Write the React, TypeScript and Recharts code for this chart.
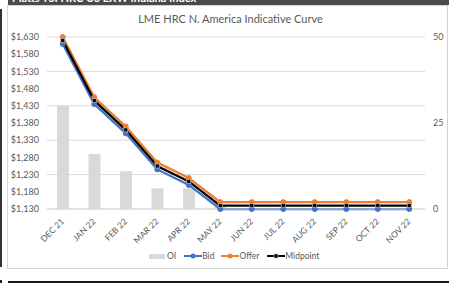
import React from "react";
import {
  ComposedChart,
  Bar,
  Line,
  XAxis,
  YAxis,
  CartesianGrid,
} from "recharts";

const months = [
  "DEC 21",
  "JAN 22",
  "FEB 22",
  "MAR 22",
  "APR 22",
  "MAY 22",
  "JUN 22",
  "JUL 22",
  "AUG 22",
  "SEP 22",
  "OCT 22",
  "NOV 22",
];
const oi = [30, 16, 11, 6, 6, 1, 0, 0, 0, 0, 0, 0];
const bid = [1610, 1435, 1350, 1245, 1200, 1130, 1130, 1130, 1130, 1130, 1130, 1130];
const offer = [1630, 1455, 1370, 1265, 1220, 1150, 1150, 1150, 1150, 1150, 1150, 1150];
const midpoint = [1620, 1445, 1360, 1255, 1210, 1140, 1140, 1140, 1140, 1140, 1140, 1140];
const priceTicks = [1130, 1180, 1230, 1280, 1330, 1380, 1430, 1480, 1530, 1580, 1630];
const oiTicks = [0, 25, 50];

const BLUE = "#4472C4";
const ORANGE = "#ED7D31";
const GREY = "#d9d9d9";
const TEXT = "#595959";
const FONT = "Lato, 'Open Sans', sans-serif";

const data = months.map((m, i) => ({
  month: m,
  oi: oi[i],
  bid: bid[i],
  offer: offer[i],
  midpoint: midpoint[i],
}));

const fmtPrice = (v: number) => "$" + v.toLocaleString("en-US");

const MonthTick = (props: any) => {
  const { x, y, payload } = props;
  const px = x + 2;
  const py = y + 5;
  return (
    <text
      x={px}
      y={py}
      textAnchor="end"
      fill={TEXT}
      fontSize={8.5}
      fontFamily={FONT}
      transform={`rotate(-45, ${px}, ${py})`}
    >
      {payload.value}
    </text>
  );
};

const SquareDot = (props: any) => {
  const { cx, cy } = props;
  if (cx == null || cy == null) return null;
  return <rect x={cx - 2} y={cy - 2} width={4} height={4} fill="#000" stroke="#bbb" strokeWidth={0.75} />;
};

const LegendLine = ({ color, square }: { color: string; square?: boolean }) => (
  <svg width={18} height={8} style={{ display: "block" }}>
    <line x1={0} y1={4} x2={18} y2={4} stroke={color} strokeWidth={2} />
    {square ? (
      <rect x={7} y={2} width={4} height={4} fill="#000" stroke="#bbb" strokeWidth={0.75} />
    ) : (
      <circle cx={9} cy={4} r={2.5} fill={color} />
    )}
  </svg>
);

export default function App() {
  return (
    <div
      style={{
        position: "fixed",
        left: 0,
        top: 0,
        width: 449,
        height: 283,
        background: "#fff",
        overflow: "hidden",
        fontFamily: FONT,
      }}
    >
      {/* cut-off header of the page above */}
      <div
        style={{
          position: "absolute",
          left: 8,
          top: 0,
          width: 441,
          height: 5,
          background: "#4a4a4a",
          overflow: "hidden",
        }}
      >
        <div
          style={{
            position: "absolute",
            left: 4,
            top: -9,
            color: "#fff",
            fontSize: 11,
            fontWeight: 700,
            whiteSpace: "nowrap",
            lineHeight: "13px",
          }}
        >
          Platts TSI HRC US EXW Indiana Index
        </div>
      </div>
      <div style={{ position: "absolute", left: 0, top: 9, width: 2, height: 258, background: "#333" }} />
      <div style={{ position: "absolute", left: 0, top: 280, width: 2, height: 3, background: "#222" }} />
      <div style={{ position: "absolute", left: 8, top: 281, width: 441, height: 2, background: "#1a1a1a" }} />

      {/* chart frame */}
      <div
        style={{
          position: "absolute",
          left: 7,
          top: 5,
          width: 439,
          height: 262,
          border: "1px solid #d4d4d4",
        }}
      />

      <div
        style={{
          position: "absolute",
          left: 0,
          top: 12,
          width: 449,
          textAlign: "center",
          fontSize: 11,
          color: TEXT,
          paddingLeft: 6,
        }}
      >
        LME HRC N. America Indicative Curve
      </div>

      <div style={{ position: "absolute", left: 0, top: 0 }}>
        <ComposedChart
          width={449}
          height={283}
          data={data}
          margin={{ top: 37, right: 0, bottom: 0, left: 0 }}
        >
          <CartesianGrid yAxisId="price" vertical={false} stroke={GREY} strokeWidth={1} />
          <XAxis
            dataKey="month"
            height={74}
            interval={0}
            tickLine={false}
            axisLine={{ stroke: GREY }}
            tick={<MonthTick />}
          />
          <YAxis
            yAxisId="price"
            orientation="left"
            width={47}
            domain={[1130, 1630]}
            ticks={priceTicks}
            tickFormatter={fmtPrice}
            axisLine={false}
            tickLine={false}
            tick={{ fill: TEXT, fontSize: 9, fontFamily: FONT }}
          />
          <YAxis
            yAxisId="oi"
            orientation="right"
            width={24}
            domain={[0, 50]}
            ticks={oiTicks}
            axisLine={false}
            tickLine={false}
            tick={{ fill: TEXT, fontSize: 9, fontFamily: FONT }}
          />
          <Bar yAxisId="oi" dataKey="oi" fill={GREY} barSize={12} isAnimationActive={false} />
          <Line
            yAxisId="price"
            type="linear"
            dataKey="bid"
            stroke={BLUE}
            strokeWidth={2.25}
            dot={{ r: 2.5, fill: BLUE, stroke: BLUE, strokeWidth: 1 }}
            activeDot={false}
            isAnimationActive={false}
          />
          <Line
            yAxisId="price"
            type="linear"
            dataKey="offer"
            stroke={ORANGE}
            strokeWidth={2.25}
            dot={{ r: 2.5, fill: ORANGE, stroke: ORANGE, strokeWidth: 1 }}
            activeDot={false}
            isAnimationActive={false}
          />
          <Line
            yAxisId="price"
            type="linear"
            dataKey="midpoint"
            stroke="#000"
            strokeWidth={2.25}
            dot={<SquareDot />}
            activeDot={false}
            isAnimationActive={false}
          />
        </ComposedChart>
      </div>

      {/* legend */}
      <div
        style={{
          position: "absolute",
          left: 149,
          top: 250,
          display: "flex",
          alignItems: "center",
          fontSize: 8.5,
          color: TEXT,
          lineHeight: "12px",
        }}
      >
        <div style={{ width: 16, height: 5, background: GREY, marginRight: 2 }} />
        <span style={{ marginRight: 8 }}>OI</span>
        <LegendLine color={BLUE} />
        <span style={{ marginRight: 7 }}>Bid</span>
        <LegendLine color={ORANGE} />
        <span style={{ marginRight: 8 }}>Offer</span>
        <LegendLine color="#000" square />
        <span>Midpoint</span>
      </div>
    </div>
  );
}
